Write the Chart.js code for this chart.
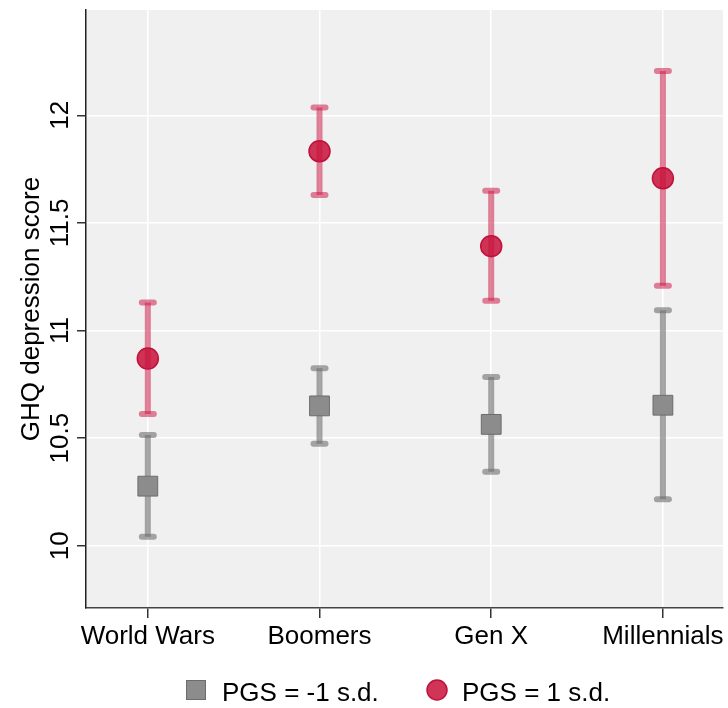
<!DOCTYPE html>
<html>
<head>
<meta charset="utf-8">
<script src="https://cdn.jsdelivr.net/npm/chart.js@4.4.1/dist/chart.umd.min.js"></script>
<style>
    html, body { margin: 0; padding: 0; background: #fff; }
    #wrap { width: 728px; height: 708px; }
</style>
</head>
<body>
<div id="wrap"><canvas id="ghqChart"></canvas></div>
<script>
// Cohorts and estimates (mean with upper/lower CI)
const cohorts = ["World Wars", "Boomers", "Gen X", "Millennials"];
const lowMean = [10.277, 10.650, 10.564, 10.653];
const lowLower = [10.042, 10.474, 10.344, 10.216];
const lowUpper = [10.515, 10.825, 10.784, 11.094];
const highMean = [10.870, 11.833, 11.392, 11.707];
const highLower = [10.612, 11.630, 11.138, 11.208];
const highUpper = [11.130, 12.036, 11.649, 12.206];
const yTicks = [10, 10.5, 11, 11.5, 12];
const seriesNames = ["PGS = -1 s.d.", "PGS = 1 s.d."];
const yTitle = "GHQ depression score";

// Narrow Helvetica look if available, else plain sans at a smaller size
function pickFont() {
    const c = document.createElement("canvas").getContext("2d");
    c.font = "100px monospace";
    const a = c.measureText("World Wars").width;
    c.font = '100px "Liberation Sans Narrow", monospace';
    const b = c.measureText("World Wars").width;
    if (a !== b) return { family: '"Liberation Sans Narrow", "Liberation Sans", Arial, sans-serif', size: 32 };
    return { family: '"Liberation Sans", Arial, sans-serif', size: 26 };
}
const F = pickFont();
const fontStr = F.size + "px " + F.family;

const grayFill = "#8c8c8c", grayEdge = "#6c6c6c", grayBar = "rgba(110,110,110,0.6)";
const redFill = "rgba(200,16,58,0.85)", redEdge = "#c0103c", redBar = "rgba(205,30,75,0.55)";

// plot background
const bgPlugin = {
    id: "plotBg",
    beforeDraw(chart) {
        const { ctx, chartArea: a } = chart;
        ctx.save();
        ctx.fillStyle = "#f0f0f0";
        ctx.fillRect(a.left, a.top, a.right - a.left, a.bottom - a.top);
        ctx.restore();
    }
};

// error bars with rounded caps
function drawBars(chart, lo, hi, color) {
    const { ctx, scales: { x, y } } = chart;
    ctx.save();
    ctx.strokeStyle = color;
    ctx.lineWidth = 6;
    lo.forEach((v, i) => {
        const px = x.getPixelForValue(i);
        const top = y.getPixelForValue(hi[i]);
        const bot = y.getPixelForValue(v);
        ctx.lineCap = "butt";
        ctx.beginPath();
        ctx.moveTo(px, top);
        ctx.lineTo(px, bot);
        ctx.stroke();
        ctx.lineCap = "round";
        [top, bot].forEach(py => {
            ctx.beginPath();
            ctx.moveTo(px - 6, py);
            ctx.lineTo(px + 6, py);
            ctx.stroke();
        });
    });
    ctx.restore();
}
const errPlugin = {
    id: "errBars",
    beforeDatasetsDraw(chart) {
        drawBars(chart, lowLower, lowUpper, grayBar);
        drawBars(chart, highLower, highUpper, redBar);
    }
};

// rotated y labels, axis title and legend
const textPlugin = {
    id: "texts",
    afterDraw(chart) {
        const { ctx, chartArea: a, scales: { y } } = chart;
        ctx.save();
        ctx.fillStyle = "#000";
        ctx.font = fontStr;
        ctx.textAlign = "center";
        ctx.textBaseline = "alphabetic";
        yTicks.forEach(v => {
            ctx.save();
            ctx.translate(68, y.getPixelForValue(v));
            ctx.rotate(-Math.PI / 2);
            ctx.fillText(String(v), 0, 0);
            ctx.restore();
        });
        ctx.save();
        ctx.translate(39, (a.top + a.bottom) / 2);
        ctx.rotate(-Math.PI / 2);
        ctx.fillText(yTitle, 0, 0);
        ctx.restore();

        // legend
        ctx.textAlign = "left";
        ctx.fillStyle = grayFill;
        ctx.strokeStyle = grayEdge;
        ctx.lineWidth = 1;
        ctx.fillRect(186, 680, 20, 20);
        ctx.strokeRect(186.5, 680.5, 19, 19);
        ctx.fillStyle = "#000";
        ctx.fillText(seriesNames[0], 222, 701);
        ctx.beginPath();
        ctx.arc(437, 690, 10, 0, Math.PI * 2);
        ctx.fillStyle = redFill;
        ctx.fill();
        ctx.strokeStyle = redEdge;
        ctx.lineWidth = 1.5;
        ctx.stroke();
        ctx.fillStyle = "#000";
        ctx.fillText(seriesNames[1], 462, 701);
        ctx.restore();
    }
};

const chart = new Chart(document.getElementById("ghqChart"), {
    type: "scatter",
    data: {
        datasets: [
            {
                label: seriesNames[0],
                data: lowMean.map((v, i) => ({ x: i, y: v })),
                pointStyle: "rect",
                pointRadius: 14,
                backgroundColor: grayFill,
                borderColor: grayEdge,
                borderWidth: 1
            },
            {
                label: seriesNames[1],
                data: highMean.map((v, i) => ({ x: i, y: v })),
                pointStyle: "circle",
                pointRadius: 10.5,
                backgroundColor: redFill,
                borderColor: redEdge,
                borderWidth: 1.5
            }
        ]
    },
    options: {
        responsive: true,
        maintainAspectRatio: false,
        animation: false,
        layout: { autoPadding: false, padding: { top: 10, right: 5, left: 0, bottom: 0 } },
        plugins: {
            legend: { display: false },
            tooltip: { enabled: false }
        },
        scales: {
            x: {
                type: "linear",
                min: -0.36,
                max: 3.35,
                afterBuildTicks: s => { s.ticks = cohorts.map((c, i) => ({ value: i })); },
                afterFit: s => { s.height = 100; s.paddingLeft = 0; s.paddingRight = 0; },
                ticks: {
                    color: "#000",
                    font: { family: F.family, size: F.size },
                    padding: 3,
                    callback: v => cohorts[v]
                },
                grid: { color: "#ffffff", lineWidth: 1.5, tickColor: "#333", tickLength: 10 },
                border: { color: "#444", width: 1.5 }
            },
            y: {
                min: 9.711,
                max: 12.489,
                afterBuildTicks: s => { s.ticks = yTicks.map(v => ({ value: v })); },
                afterFit: s => { s.width = 86; s.paddingTop = 0; s.paddingBottom = 0; },
                ticks: { display: false },
                grid: { color: "#ffffff", lineWidth: 1.5, tickColor: "#333", tickLength: 9 },
                border: { color: "#222", width: 1.5 }
            }
        }
    },
    plugins: [bgPlugin, errPlugin, textPlugin]
});
</script>
</body>
</html>
